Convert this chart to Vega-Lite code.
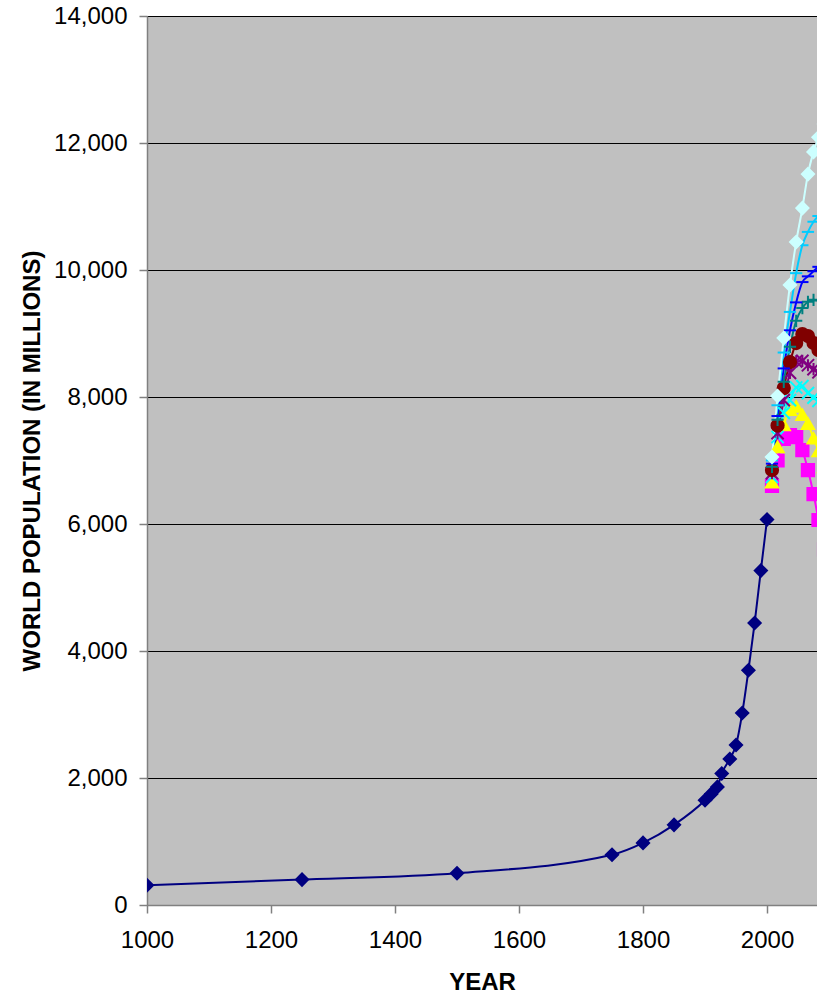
{
  "$schema": "https://vega.github.io/schema/vega-lite/v6.json",
  "autosize": {"type": "none"},
  "padding": {"left": 147, "top": 16, "right": 0, "bottom": 89},
  "width": 670,
  "height": 889,
  "background": "#FFFFFF",
  "config": {
    "font": "Liberation Sans",
    "view": {"fill": "#C0C0C0", "stroke": null}
  },
  "data": {
    "values": [
      {"series": "Historical", "year": 1000, "pop": 310},
      {"series": "Historical", "year": 1250, "pop": 400},
      {"series": "Historical", "year": 1500, "pop": 500},
      {"series": "Historical", "year": 1750, "pop": 791},
      {"series": "Historical", "year": 1800, "pop": 978},
      {"series": "Historical", "year": 1850, "pop": 1262},
      {"series": "Historical", "year": 1900, "pop": 1650},
      {"series": "Historical", "year": 1910, "pop": 1750},
      {"series": "Historical", "year": 1920, "pop": 1860},
      {"series": "Historical", "year": 1927, "pop": 2070},
      {"series": "Historical", "year": 1940, "pop": 2300},
      {"series": "Historical", "year": 1950, "pop": 2519},
      {"series": "Historical", "year": 1960, "pop": 3023},
      {"series": "Historical", "year": 1970, "pop": 3696},
      {"series": "Historical", "year": 1980, "pop": 4440},
      {"series": "Historical", "year": 1990, "pop": 5266},
      {"series": "Historical", "year": 2000, "pop": 6070},

      {"series": "Scenario 1", "year": 2008, "pop": 6600},
      {"series": "Scenario 1", "year": 2017, "pop": 7000},
      {"series": "Scenario 1", "year": 2027, "pop": 7340},
      {"series": "Scenario 1", "year": 2037, "pop": 7400},
      {"series": "Scenario 1", "year": 2047, "pop": 7370},
      {"series": "Scenario 1", "year": 2057, "pop": 7165},
      {"series": "Scenario 1", "year": 2066, "pop": 6850},
      {"series": "Scenario 1", "year": 2075, "pop": 6470},
      {"series": "Scenario 1", "year": 2083, "pop": 6063},
      {"series": "Scenario 1", "year": 2092, "pop": 5600},

      {"series": "Scenario 2", "year": 2008, "pop": 6660},
      {"series": "Scenario 2", "year": 2017, "pop": 7215},
      {"series": "Scenario 2", "year": 2027, "pop": 7560},
      {"series": "Scenario 2", "year": 2037, "pop": 7800},
      {"series": "Scenario 2", "year": 2047, "pop": 7850},
      {"series": "Scenario 2", "year": 2057, "pop": 7720},
      {"series": "Scenario 2", "year": 2066, "pop": 7580},
      {"series": "Scenario 2", "year": 2075, "pop": 7350},
      {"series": "Scenario 2", "year": 2083, "pop": 7150},
      {"series": "Scenario 2", "year": 2092, "pop": 6900},

      {"series": "Scenario 3", "year": 2008, "pop": 6740},
      {"series": "Scenario 3", "year": 2017, "pop": 7370},
      {"series": "Scenario 3", "year": 2027, "pop": 7750},
      {"series": "Scenario 3", "year": 2037, "pop": 7950},
      {"series": "Scenario 3", "year": 2047, "pop": 8150},
      {"series": "Scenario 3", "year": 2057, "pop": 8170},
      {"series": "Scenario 3", "year": 2066, "pop": 8060},
      {"series": "Scenario 3", "year": 2075, "pop": 7990},
      {"series": "Scenario 3", "year": 2083, "pop": 7940},
      {"series": "Scenario 3", "year": 2092, "pop": 7870},

      {"series": "Scenario 4", "year": 2008, "pop": 6800},
      {"series": "Scenario 4", "year": 2017, "pop": 7430},
      {"series": "Scenario 4", "year": 2027, "pop": 7950},
      {"series": "Scenario 4", "year": 2037, "pop": 8380},
      {"series": "Scenario 4", "year": 2047, "pop": 8560},
      {"series": "Scenario 4", "year": 2057, "pop": 8570},
      {"series": "Scenario 4", "year": 2066, "pop": 8500},
      {"series": "Scenario 4", "year": 2075, "pop": 8440},
      {"series": "Scenario 4", "year": 2083, "pop": 8390},
      {"series": "Scenario 4", "year": 2092, "pop": 8320},

      {"series": "Scenario 5", "year": 2008, "pop": 6850},
      {"series": "Scenario 5", "year": 2017, "pop": 7550},
      {"series": "Scenario 5", "year": 2027, "pop": 8140},
      {"series": "Scenario 5", "year": 2037, "pop": 8550},
      {"series": "Scenario 5", "year": 2047, "pop": 8850},
      {"series": "Scenario 5", "year": 2057, "pop": 8990},
      {"series": "Scenario 5", "year": 2066, "pop": 8960},
      {"series": "Scenario 5", "year": 2075, "pop": 8850},
      {"series": "Scenario 5", "year": 2083, "pop": 8740},
      {"series": "Scenario 5", "year": 2092, "pop": 8600},

      {"series": "Scenario 6", "year": 2008, "pop": 6900},
      {"series": "Scenario 6", "year": 2017, "pop": 7640},
      {"series": "Scenario 6", "year": 2027, "pop": 8240},
      {"series": "Scenario 6", "year": 2037, "pop": 8790},
      {"series": "Scenario 6", "year": 2047, "pop": 9200},
      {"series": "Scenario 6", "year": 2057, "pop": 9400},
      {"series": "Scenario 6", "year": 2066, "pop": 9500},
      {"series": "Scenario 6", "year": 2075, "pop": 9530},
      {"series": "Scenario 6", "year": 2083, "pop": 9520},
      {"series": "Scenario 6", "year": 2092, "pop": 9500},

      {"series": "Scenario 7", "year": 2008, "pop": 6950},
      {"series": "Scenario 7", "year": 2017, "pop": 7700},
      {"series": "Scenario 7", "year": 2027, "pop": 8450},
      {"series": "Scenario 7", "year": 2037, "pop": 9050},
      {"series": "Scenario 7", "year": 2047, "pop": 9490},
      {"series": "Scenario 7", "year": 2057, "pop": 9810},
      {"series": "Scenario 7", "year": 2066, "pop": 9900},
      {"series": "Scenario 7", "year": 2075, "pop": 9980},
      {"series": "Scenario 7", "year": 2083, "pop": 10050},
      {"series": "Scenario 7", "year": 2092, "pop": 10100},

      {"series": "Scenario 8", "year": 2008, "pop": 7000},
      {"series": "Scenario 8", "year": 2017, "pop": 7870},
      {"series": "Scenario 8", "year": 2027, "pop": 8700},
      {"series": "Scenario 8", "year": 2037, "pop": 9340},
      {"series": "Scenario 8", "year": 2047, "pop": 9950},
      {"series": "Scenario 8", "year": 2057, "pop": 10390},
      {"series": "Scenario 8", "year": 2066, "pop": 10600},
      {"series": "Scenario 8", "year": 2075, "pop": 10760},
      {"series": "Scenario 8", "year": 2083, "pop": 10850},
      {"series": "Scenario 8", "year": 2092, "pop": 10900},

      {"series": "Scenario 9", "year": 2008, "pop": 7055},
      {"series": "Scenario 9", "year": 2017, "pop": 8016},
      {"series": "Scenario 9", "year": 2027, "pop": 8930},
      {"series": "Scenario 9", "year": 2037, "pop": 9765},
      {"series": "Scenario 9", "year": 2047, "pop": 10440},
      {"series": "Scenario 9", "year": 2057, "pop": 10975},
      {"series": "Scenario 9", "year": 2066, "pop": 11510},
      {"series": "Scenario 9", "year": 2075, "pop": 11860},
      {"series": "Scenario 9", "year": 2083, "pop": 12090},
      {"series": "Scenario 9", "year": 2092, "pop": 12300}
    ]
  },
  "encoding": {
    "x": {
      "field": "year",
      "type": "quantitative",
      "scale": {"domain": [1000, 2080.6], "nice": false, "zero": false},
      "axis": {
        "title": "YEAR",
        "values": [1000, 1200, 1400, 1600, 1800, 2000],
        "format": "d",
        "grid": false,
        "labelFlush": false,
        "labelOverlap": false,
        "domainColor": "#808080",
        "domainWidth": 1.5,
        "tickColor": "#808080",
        "tickWidth": 1.5,
        "tickSize": 8,
        "labelFontSize": 24,
        "labelColor": "#000000",
        "labelPadding": 15,
        "titleFontSize": 24,
        "titleFontWeight": "bold",
        "titleColor": "#000000",
        "titlePadding": 18
      }
    },
    "y": {
      "field": "pop",
      "type": "quantitative",
      "scale": {"domain": [0, 14000], "nice": false},
      "axis": {
        "title": "WORLD POPULATION (IN MILLIONS)",
        "values": [0, 2000, 4000, 6000, 8000, 10000, 12000, 14000],
        "format": ",.0f",
        "grid": true,
        "labelFlush": false,
        "labelOverlap": false,
        "gridColor": "#000000",
        "gridWidth": 1,
        "domainColor": "#808080",
        "domainWidth": 1.5,
        "tickColor": "#808080",
        "tickWidth": 1.5,
        "tickSize": 8,
        "labelFontSize": 24,
        "labelColor": "#000000",
        "labelPadding": 12,
        "titleFontSize": 24,
        "titleFontWeight": "bold",
        "titleColor": "#000000",
        "titlePadding": 9
      }
    }
  },
  "layer": [
    {
      "mark": {"type": "line", "clip": true, "strokeWidth": 2, "interpolate": "monotone"},
      "encoding": {
        "color": {
          "field": "series",
          "type": "nominal",
          "legend": null,
          "scale": {
            "domain": ["Historical", "Scenario 1", "Scenario 2", "Scenario 3", "Scenario 4", "Scenario 5", "Scenario 6", "Scenario 7", "Scenario 8", "Scenario 9"],
            "range": ["#000080", "#FF00FF", "#FFFF00", "#00FFFF", "#800080", "#800000", "#008080", "#0000FF", "#00CCFF", "#CCFFFF"]
          }
        }
      }
    },
    {
      "mark": {"type": "point", "clip": true, "filled": true, "opacity": 1, "strokeWidth": 2, "size": 150},
      "encoding": {
        "fill": {
          "field": "series",
          "type": "nominal",
          "legend": null,
          "scale": {
            "domain": ["Historical", "Scenario 1", "Scenario 2", "Scenario 3", "Scenario 4", "Scenario 5", "Scenario 6", "Scenario 7", "Scenario 8", "Scenario 9"],
            "range": ["#000080", "#FF00FF", "#FFFF00", "#00FFFF", "#800080", "#800000", "#008080", "#0000FF", "#00CCFF", "#CCFFFF"]
          }
        },
        "stroke": {
          "field": "series",
          "type": "nominal",
          "legend": null,
          "scale": {
            "domain": ["Historical", "Scenario 1", "Scenario 2", "Scenario 3", "Scenario 4", "Scenario 5", "Scenario 6", "Scenario 7", "Scenario 8", "Scenario 9"],
            "range": ["#000080", "#FF00FF", "#FFFF00", "#00FFFF", "#800080", "#800000", "#008080", "#0000FF", "#00CCFF", "#CCFFFF"]
          }
        },
        "shape": {
          "field": "series",
          "type": "nominal",
          "legend": null,
          "scale": {
            "domain": ["Historical", "Scenario 1", "Scenario 2", "Scenario 3", "Scenario 4", "Scenario 5", "Scenario 6", "Scenario 7", "Scenario 8", "Scenario 9"],
            "range": ["diamond", "square", "triangle-up", "M-1,-1L1,1M-1,1L1,-1", "M-1,-1L1,1M-1,1L1,-1M0,-1L0,1", "circle", "M-1,0L1,0M0,-1L0,1", "M-1,0L1,0", "M-1,0L1,0", "diamond"]
          }
        }
      }
    }
  ]
}
